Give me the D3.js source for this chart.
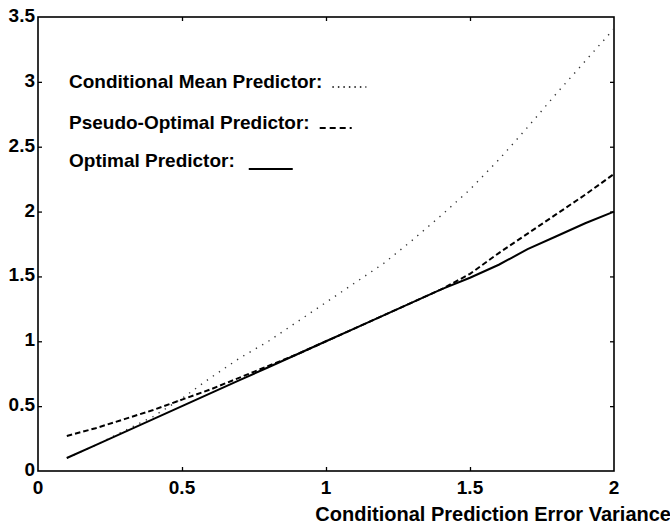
<!DOCTYPE html>
<html><head><meta charset="utf-8">
<script src="https://cdn.jsdelivr.net/npm/d3@7"></script>
<style>body{margin:0;background:#fff}text{font-family:"Liberation Sans",Arial,sans-serif;fill:#000}</style>
</head><body><svg id="c" width="670" height="527"></svg>
<script>
const xVals = [0.1,0.2,0.3,0.4,0.5,0.6,0.7,0.8,0.9,1.0,1.1,1.2,1.3,1.4,1.5,1.6,1.7,1.8,1.9,2.0];
const condMean = [0.1,0.2,0.31,0.42,0.56,0.72,0.87,1.0,1.15,1.3,1.45,1.6,1.78,1.97,2.17,2.4,2.65,2.91,3.16,3.41];
const pseudoOpt = [0.27,0.33,0.4,0.47,0.55,0.63,0.72,0.81,0.9,1.0,1.1,1.2,1.3,1.4,1.52,1.68,1.83,1.98,2.13,2.29];
const optimal = [0.1,0.2,0.3,0.4,0.5,0.6,0.7,0.8,0.9,1.0,1.1,1.2,1.3,1.4,1.49,1.59,1.71,1.81,1.91,2.0];
const xTicks = [0,0.5,1,1.5,2];
const xTickLabels = ["0","0.5","1","1.5","2"];
const yTicks = [0,0.5,1,1.5,2,2.5,3,3.5];
const yTickLabels = ["0","0.5","1","1.5","2","2.5","3","3.5"];
const legendLabels = ["Conditional Mean Predictor:","Pseudo-Optimal Predictor:","Optimal Predictor:"];
const xTitle = "Conditional Prediction Error Variance";

const svg = d3.select("#c");
const L=38,R=614,T=17,B=471;
const x = d3.scaleLinear().domain([0,2]).range([L,R]);
const y = d3.scaleLinear().domain([0,3.5]).range([B,T]);
const fs = 19;

const tl=4;
const g = svg.append("g");
g.append("g").attr("transform",`translate(0,${B})`).call(d3.axisTop(x).tickValues(xTicks.slice(1,-1)).tickSize(tl).tickFormat("")).call(a=>a.select(".domain").remove());
g.append("g").attr("transform",`translate(0,${T})`).call(d3.axisBottom(x).tickValues(xTicks.slice(1,-1)).tickSize(tl).tickFormat("")).call(a=>a.select(".domain").remove());
g.append("g").attr("transform",`translate(${L},0)`).call(d3.axisRight(y).tickValues(yTicks.slice(1,-1)).tickSize(tl).tickFormat("")).call(a=>a.select(".domain").remove());
g.append("g").attr("transform",`translate(${R},0)`).call(d3.axisLeft(y).tickValues(yTicks.slice(1,-1)).tickSize(tl).tickFormat("")).call(a=>a.select(".domain").remove());
g.selectAll("line").attr("stroke","#000").attr("stroke-width",1.3);

svg.append("rect").attr("x",L).attr("y",T).attr("width",R-L).attr("height",B-T).attr("fill","none").attr("stroke","#000").attr("stroke-width",1.6);

svg.selectAll(".xl").data(xTicks).enter().append("text").attr("x",d=>x(d)).attr("y",B+23)
  .attr("text-anchor","middle").attr("font-size",fs).attr("font-weight","bold").text((d,i)=>xTickLabels[i]);
svg.selectAll(".yl").data(yTicks).enter().append("text").attr("x",L-3).attr("y",d=>y(d)+5)
  .attr("text-anchor","end").attr("font-size",fs).attr("font-weight","bold").text((d,i)=>yTickLabels[i]);

svg.append("text").attr("x",671).attr("y",521).attr("text-anchor","end").attr("font-size",20).attr("font-weight","bold").text(xTitle);

const line = d3.line().x((d,i)=>x(xVals[i])).y(d=>y(d));
svg.append("path").datum(condMean).attr("d",line).attr("fill","none").attr("stroke","#333").attr("stroke-width",1.4).attr("stroke-dasharray","1.3,6");
svg.append("path").datum(pseudoOpt).attr("d",line).attr("fill","none").attr("stroke","#000").attr("stroke-width",2).attr("stroke-dasharray","5.5,3");
svg.append("path").datum(optimal).attr("d",line).attr("fill","none").attr("stroke","#000").attr("stroke-width",2);

const legY=[82,123,161];
const styles=[{d:"1.5,4",w:1.6},{d:"6,4",w:2},{d:null,w:2}];
legendLabels.forEach((t,i)=>{
  const tx = svg.append("text").attr("x",69).attr("y",legY[i]+6).attr("font-size",fs).attr("font-weight","bold").text(t);
  const end = 69 + tx.node().getComputedTextLength();
  const x1 = end + (i===2?14:10), x2 = x1 + (i===0?34:(i===1?32:44));
  const ly = i===2? legY[i]+8 : legY[i]+5;
  const ln=svg.append("line").attr("x1",x1).attr("x2",x2).attr("y1",ly).attr("y2",ly).attr("stroke","#000").attr("stroke-width",styles[i].w);
  if(styles[i].d) ln.attr("stroke-dasharray",styles[i].d);
});
</script></body></html>
